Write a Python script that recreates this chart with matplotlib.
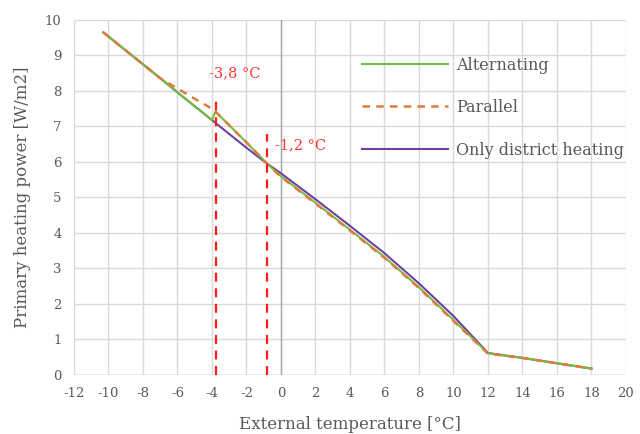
import matplotlib
matplotlib.use("Agg")
import matplotlib.pyplot as plt

plt.rcParams['font.family'] = ['DejaVu Serif']
plt.rcParams['axes.unicode_minus'] = False

# external temperature [°C]
temps = [-10.3, -8, -7, -6, -5, -4, -3.8, -2, -0.8, 0, 2, 4, 6, 8, 10, 12, 14, 16, 18]

only_dh = [9.65, 8.75, 8.36, 7.96, 7.57, 7.18, 7.10, 6.40, 5.95, 5.68, 4.95, 4.20,
           3.43, 2.58, 1.66, 0.62, 0.48, 0.33, 0.18]
parallel = [9.65, 8.75, 8.36, 8.07, 7.78, 7.50, 7.42, 6.55, 5.95, 5.58, 4.83, 4.07,
            3.30, 2.45, 1.52, 0.60, 0.48, 0.33, 0.18]
alternating = [9.65, 8.75, 8.36, 7.96, 7.57, 7.18, 7.42, 6.55, 5.95, 5.60, 4.85, 4.09,
               3.32, 2.47, 1.55, 0.61, 0.48, 0.33, 0.18]

# switch-over temperatures (position, top of marker line, label)
switch_x = [-3.75, -0.8]
switch_top = [7.75, 6.8]
switch_labels = ["-3,8 °C", "-1,2 °C"]

txt = "#595959"
grid_c = "#d9d9d9"

fig = plt.figure(figsize=(6.4, 4.34), dpi=100)
ax = fig.add_axes([0.1156, 0.136, 0.8625, 0.818])

ax.set_xlim(-12, 20)
ax.set_ylim(0, 10)
ax.set_xticks(range(-12, 21, 2))
ax.set_yticks(range(0, 11))
ax.grid(True, color=grid_c, linewidth=1.0)
ax.set_axisbelow(True)
for s in ax.spines.values():
    s.set_visible(False)
ax.axhline(0, color="#bfbfbf", linewidth=1.0, zorder=1)
ax.axvline(0, color="#a6a6a6", linewidth=1.0, zorder=1)
ax.tick_params(length=0, colors=txt, labelsize=9.5, pad=9)

ax.plot(temps, alternating, color="#70c040", linewidth=1.5, label="Alternating", zorder=3)
ax.plot(temps, parallel, color="#e07b39", linewidth=1.8, linestyle=(0, (3, 2.5)),
        label="Parallel", zorder=4)
ax.plot(temps, only_dh, color="#7040a0", linewidth=1.5, label="Only district heating", zorder=2)

for x, top in zip(switch_x, switch_top):
    ax.plot([x, x], [0, top], color="#ff1a1a", linewidth=1.6, linestyle=(0, (4, 3)), zorder=5)
ax.text(-2.7, 8.5, switch_labels[0], color="#ff3333", fontsize=10.5, ha="center", va="center")
ax.text(-0.35, 6.48, switch_labels[1], color="#ff3333", fontsize=10.5, ha="left", va="center")

leg = ax.legend(loc="upper left", bbox_to_anchor=(0.51, 0.915), frameon=False,
                handlelength=5.4, labelspacing=1.6, fontsize=11.5, handletextpad=0.5,
                borderaxespad=0)
for t in leg.get_texts():
    t.set_color(txt)

ax.set_xlabel("External temperature [°C]", color=txt, fontsize=12, labelpad=11)
ax.set_ylabel("Primary heating power [W/m2]", color=txt, fontsize=12, labelpad=10)

fig.savefig("out.png", dpi=100)
